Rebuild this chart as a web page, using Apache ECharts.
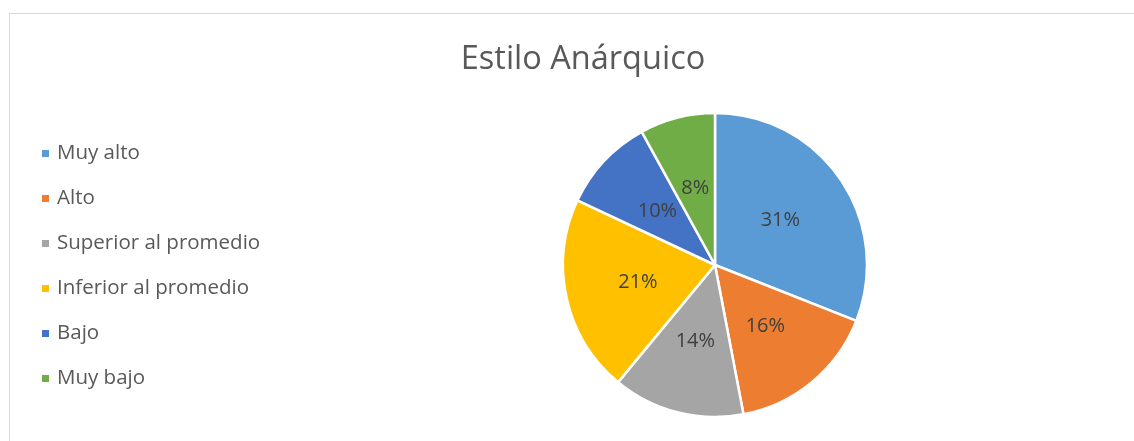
<!DOCTYPE html>
<html>
<head>
<meta charset="utf-8">
<script src="https://cdn.jsdelivr.net/npm/echarts@6/dist/echarts.min.js"></script>
<style>
  html, body { margin: 0; padding: 0; background: #fff; overflow: hidden; }
  #frame { position: absolute; left: 9px; top: 13px; width: 1200px; height: 500px; border: 1.5px solid #d9d9d9; box-sizing: border-box; }
  #chart { position: absolute; left: 0; top: 0; width: 1134px; height: 441px; }
</style>
</head>
<body>
<div id="frame"></div>
<div id="chart"></div>
<script>
// categorias y porcentajes
var categorias = ['Muy alto', 'Alto', 'Superior al promedio', 'Inferior al promedio', 'Bajo', 'Muy bajo'];
var valores = [31, 16, 14, 21, 10, 8];
var colores = ['#5B9BD5', '#ED7D31', '#A5A5A5', '#FFC000', '#4472C4', '#70AD47'];
var titulo = 'Estilo Anárquico';

var fuente = '"Open Sans", Lato, sans-serif';

var chart = echarts.init(document.getElementById('chart'));
chart.setOption({
  animation: false,
  color: colores,
  title: {
    text: titulo,
    left: 578,
    textAlign: 'center',
    top: 38,
    textStyle: { fontFamily: fuente, fontSize: 32.5, fontWeight: 'normal', color: '#595959' }
  },
  legend: {
    orient: 'vertical',
    left: 40,
    top: 143,
    padding: 0,
    icon: 'rect',
    itemWidth: 9,
    itemHeight: 9,
    itemGap: 24,
    data: categorias,
    textStyle: { fontFamily: fuente, fontSize: 20.5, lineHeight: 20, color: '#595959', padding: [0, 0, 0, 2] }
  },
  series: [{
    type: 'pie',
    center: [715, 265],
    radius: 152,
    startAngle: 90,
    clockwise: true,
    itemStyle: { borderColor: '#fff', borderWidth: 2.5 },
    label: {
      position: 'inside',
      formatter: '{d}%',
      fontFamily: fuente,
      fontSize: 20,
      color: '#404040'
    },
    labelLine: { show: false },
    emphasis: { disabled: true },
    data: categorias.map(function (c, i) { return { name: c, value: valores[i] }; })
  }]
});
</script>
</body>
</html>
